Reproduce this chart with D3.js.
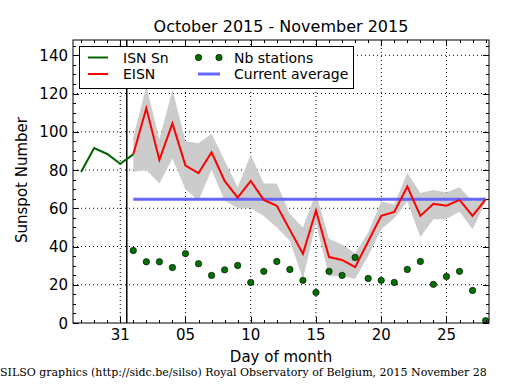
<!DOCTYPE html>
<html><head><meta charset="utf-8">
<script src="https://cdn.jsdelivr.net/npm/d3@7"></script>
<style>body{margin:0;background:#fff}svg{display:block}</style>
</head><body>
<svg id="chart" width="515" height="390"></svg>
<script>
// ---------------- data ----------------
const isnDates = ["2015-10-28","2015-10-29","2015-10-30","2015-10-31","2015-11-01"];
const isnValues = [79.0, 91.5, 88.4, 83.3, 88.2];

const eisnDates = ["2015-11-01","2015-11-02","2015-11-03","2015-11-04","2015-11-05","2015-11-06","2015-11-07",
  "2015-11-08","2015-11-09","2015-11-10","2015-11-11","2015-11-12","2015-11-13","2015-11-14","2015-11-15",
  "2015-11-16","2015-11-17","2015-11-18","2015-11-19","2015-11-20","2015-11-21","2015-11-22","2015-11-23",
  "2015-11-24","2015-11-25","2015-11-26","2015-11-27","2015-11-28"];
const eisnValues = [88.2,112.3,85.3,104.4,82.3,78.4,89.3,74.3,65.6,74.3,64.4,61.3,48.7,36.2,58.8,
  34.5,33.0,29.2,42.6,56.0,58.1,71.3,56.0,62.3,61.3,64.4,56.0,64.7];
const eisnUpper = [97,124,96,122,95,94,99,85,71,88,73,73,57,50,68,44,41,36.5,47.3,63.5,62,78.6,68,69.6,68.2,71,63.5,66];
const eisnLower = [79,80,73,86,70,64,80,64,60,60,56,50,43,23,52,24.5,24.7,23,35,49,54.8,63.5,45,54.3,54.3,58.3,49,63];
const stationsValues = [37.9,32.0,32.0,29.0,36.3,31.0,24.9,27.8,30.1,21.2,27.0,32.2,28.0,22.3,16.0,
  27.0,24.9,34.3,23.3,22.3,21.2,28.0,32.2,20.2,24.3,27.0,17.0,1.2];
const currentAverage = 64.7;

const yTicks = [0,20,40,60,80,100,120,140];
const xTickDates = ["2015-10-31","2015-11-05","2015-11-10","2015-11-15","2015-11-20","2015-11-25"];
const monthBoundary = "2015-10-31T12:00";

const titleText = "October 2015 - November 2015";
const xLabel = "Day of month";
const yLabel = "Sunspot Number";
const footer = "SILSO graphics (http://sidc.be/silso) Royal Observatory of Belgium, 2015 November 28";
const legendItems = ["ISN Sn","EISN","Nb stations","Current average"];

// ---------------- drawing ----------------
const parse = d3.utcParse("%Y-%m-%d");
const parseT = d3.utcParse("%Y-%m-%dT%H:%M");
const svg = d3.select("#chart");
const L = 73, R = 489, T = 40, B = 323;
const font = "DejaVu Sans, sans-serif";

const x = d3.scaleUtc()
  .domain([new Date(Date.UTC(2015,9,27,9,7)), new Date(Date.UTC(2015,10,28,6,14))])
  .range([L, R]);
const y = d3.scaleLinear().domain([0, 148]).range([B, T]);

svg.append("clipPath").attr("id","clip").append("rect")
  .attr("x",L).attr("y",T).attr("width",R-L).attr("height",B-T);

// grid
const g = svg.append("g");
const xTicks = xTickDates.map(parse);
g.selectAll(".gx").data(xTicks).join("line")
  .attr("x1",d=>x(d)).attr("x2",d=>x(d)).attr("y1",T).attr("y2",B)
  .attr("stroke","#000").attr("stroke-width",1).attr("stroke-dasharray","1,3");
g.selectAll(".gy").data(yTicks.filter(v=>v>0)).join("line")
  .attr("x1",L).attr("x2",R).attr("y1",d=>y(d)).attr("y2",d=>y(d))
  .attr("stroke","#000").attr("stroke-width",1).attr("stroke-dasharray","1,3");

const plot = svg.append("g").attr("clip-path","url(#clip)");

// band
const eis = eisnDates.map((d,i)=>({d:parse(d), v:eisnValues[i], hi:eisnUpper[i], lo:eisnLower[i], n:stationsValues[i]}));
plot.append("path").datum(eis)
  .attr("d", d3.area().x(d=>x(d.d)).y0(d=>y(d.lo)).y1(d=>y(d.hi)))
  .attr("fill","#cccccc").attr("stroke","none");

// current average
plot.append("line")
  .attr("x1",x(eis[0].d)).attr("x2",x(eis[eis.length-1].d))
  .attr("y1",y(currentAverage)).attr("y2",y(currentAverage))
  .attr("stroke","#6666ff").attr("stroke-width",3);

// month boundary
plot.append("line")
  .attr("x1",x(parseT(monthBoundary))).attr("x2",x(parseT(monthBoundary)))
  .attr("y1",T).attr("y2",B).attr("stroke","#000").attr("stroke-width",1.5);

// ISN line
const isn = isnDates.map((d,i)=>({d:parse(d), v:isnValues[i]}));
plot.append("path").datum(isn)
  .attr("d", d3.line().x(d=>x(d.d)).y(d=>y(d.v)))
  .attr("fill","none").attr("stroke","#006400").attr("stroke-width",2);

// EISN line
plot.append("path").datum(eis)
  .attr("d", d3.line().x(d=>x(d.d)).y(d=>y(d.v)))
  .attr("fill","none").attr("stroke","#ff0000").attr("stroke-width",2);

// stations
plot.selectAll(".st").data(eis).join("circle")
  .attr("cx",d=>x(d.d)).attr("cy",d=>y(d.n)).attr("r",3.2)
  .attr("fill","#007000").attr("stroke","#000").attr("stroke-width",0.6);

// frame
svg.append("rect").attr("x",L).attr("y",T).attr("width",R-L).attr("height",B-T)
  .attr("fill","none").attr("stroke","#000").attr("stroke-width",1);

// ticks
const tk = svg.append("g").attr("stroke","#000").attr("stroke-width",1);
const minorDays = d3.utcDay.range(new Date(Date.UTC(2015,9,28)), new Date(Date.UTC(2015,10,29)));
minorDays.forEach(d=>{
  const xx = Math.round(x(d))+0.5;
  tk.append("line").attr("x1",xx).attr("x2",xx).attr("y1",B).attr("y2",B-3);
  tk.append("line").attr("x1",xx).attr("x2",xx).attr("y1",T).attr("y2",T+3);
});
xTicks.forEach(d=>{
  const xx = Math.round(x(d))+0.5;
  tk.append("line").attr("x1",xx).attr("x2",xx).attr("y1",B).attr("y2",B-6);
  tk.append("line").attr("x1",xx).attr("x2",xx).attr("y1",T).attr("y2",T+6);
});
d3.range(0,146,5).forEach(v=>{
  const yy = Math.round(y(v))+0.5, len = v%20===0 ? 6 : 3;
  tk.append("line").attr("x1",L).attr("x2",L+len).attr("y1",yy).attr("y2",yy);
  tk.append("line").attr("x1",R).attr("x2",R-len).attr("y1",yy).attr("y2",yy);
});

// tick labels
const tf = d3.utcFormat("%d");
svg.selectAll(".xl").data(xTicks).join("text")
  .attr("x",d=>x(d)).attr("y",B+17).attr("text-anchor","middle")
  .attr("font-family",font).attr("font-size",15).text(d=>tf(d));
svg.selectAll(".yl").data(yTicks).join("text")
  .attr("x",L-5).attr("y",d=>y(d)+5.5).attr("text-anchor","end")
  .attr("font-family",font).attr("font-size",15).text(d=>d);

// labels
svg.append("text").attr("x",(L+R)/2).attr("y",32).attr("text-anchor","middle")
  .attr("font-family",font).attr("font-size",16).text(titleText);
svg.append("text").attr("x",(L+R)/2).attr("y",362).attr("text-anchor","middle")
  .attr("font-family",font).attr("font-size",15).text(xLabel);
svg.append("text").attr("transform","translate(27,180) rotate(-90)").attr("text-anchor","middle")
  .attr("font-family",font).attr("font-size",15).text(yLabel);
svg.append("text").attr("x",0).attr("y",376)
  .attr("font-family","DejaVu Serif, serif").attr("font-size",11).text(footer);

// legend
const lg = svg.append("g");
lg.append("rect").attr("x",79.5).attr("y",46.5).attr("width",274).attr("height",42)
  .attr("fill","#fff").attr("stroke","#000").attr("stroke-width",1);
const r1 = 57.5, r2 = 74;
lg.append("line").attr("x1",88).attr("x2",108).attr("y1",r1).attr("y2",r1).attr("stroke","#006400").attr("stroke-width",2);
lg.append("line").attr("x1",88).attr("x2",108).attr("y1",r2).attr("y2",r2).attr("stroke","#ff0000").attr("stroke-width",2);
[198.5,219].forEach(cx=>lg.append("circle").attr("cx",cx).attr("cy",r1).attr("r",3.2)
  .attr("fill","#007000").attr("stroke","#000").attr("stroke-width",0.6));
lg.append("line").attr("x1",198).attr("x2",220).attr("y1",r2).attr("y2",r2).attr("stroke","#6666ff").attr("stroke-width",3);
const lt = [[123,r1,legendItems[0]],[123,r2,legendItems[1]],[234,r1,legendItems[2]],[234,r2,legendItems[3]]];
lt.forEach(([tx,ty,s])=>lg.append("text").attr("x",tx).attr("y",ty+5).attr("font-family",font)
  .attr("font-size",14).text(s));
</script>
</body></html>
